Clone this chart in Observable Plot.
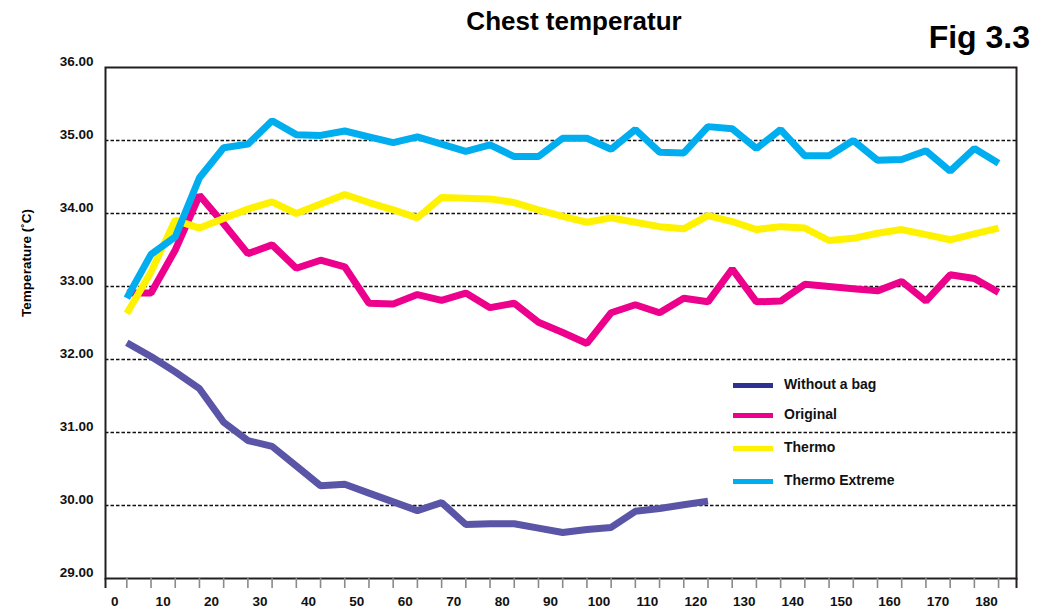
<!DOCTYPE html>
<html>
<head>
<meta charset="utf-8">
<script src="https://cdn.jsdelivr.net/npm/d3@7"></script>
<script src="https://cdn.jsdelivr.net/npm/@observablehq/plot@0.6"></script>
<style>
  html, body { margin: 0; padding: 0; background: #fff; }
  body { font-family: "Liberation Sans", Arial, Helvetica, sans-serif; }
  #wrap { position: relative; width: 1047px; height: 608px; overflow: hidden; }
  #chart { position: absolute; left: 0; top: 0; }
  .txt { position: absolute; font-weight: bold; color: #000; white-space: nowrap; line-height: 1; }
  #title { left: 574px; top: 8px; font-size: 26px; transform: translateX(-50%); }
  #fig { right: 17px; top: 21px; font-size: 32px; }
  #ytitle { left: 27px; top: 263px; font-size: 13.5px; transform: translate(-50%, -50%) rotate(-90deg); }
  #legend { position: absolute; left: 733px; top: 372px; }
  .row { position: absolute; left: 0; height: 26px; width: 260px; }
  .sw { position: absolute; left: 0; top: 11px; width: 40px; height: 5px; }
  .lab { position: absolute; left: 51px; top: 5px; font-size: 14px; font-weight: bold; color: #111; white-space: nowrap; line-height: 1; }
</style>
</head>
<body>
<div id="wrap">
  <div id="chart"></div>
  <div class="txt" id="title"></div>
  <div class="txt" id="fig"></div>
  <div class="txt" id="ytitle"></div>
  <div id="legend"></div>
</div>
<script>
// ---- Data (minutes, °C) ----
const titleText = "Chest temperatur";
const figText = "Fig 3.3";
const yTitle = "Temperature (˚C)";

const times = [2.5, 7.5, 12.5, 17.5, 22.5, 27.5, 32.5, 37.5, 42.5, 47.5, 52.5, 57.5, 62.5,
  67.5, 72.5, 77.5, 82.5, 87.5, 92.5, 97.5, 102.5, 107.5, 112.5, 117.5, 122.5, 127.5,
  132.5, 137.5, 142.5, 147.5, 152.5, 157.5, 162.5, 167.5, 172.5, 177.5, 182.5];

const withoutBag = [32.23, 32.04, 31.83, 31.60, 31.14, 30.89, 30.81, 30.54, 30.27, 30.29,
  30.17, 30.05, 29.93, 30.04, 29.74, 29.75, 29.75, 29.69, 29.63, 29.67, 29.70, 29.92,
  29.96, 30.01, 30.06];

const original = [32.91, 32.91, 33.50, 34.25, 33.86, 33.45, 33.57, 33.25, 33.36, 33.27,
  32.77, 32.76, 32.89, 32.81, 32.91, 32.71, 32.77, 32.51, 32.37, 32.22, 32.64, 32.75,
  32.64, 32.84, 32.79, 33.24, 32.79, 32.80, 33.03, 33.00, 32.97, 32.94, 33.07, 32.80,
  33.16, 33.11, 32.92];

const thermo = [32.63, 33.20, 33.91, 33.80, 33.93, 34.06, 34.16, 34.00, 34.13, 34.26,
  34.15, 34.05, 33.94, 34.22, 34.21, 34.20, 34.15, 34.05, 33.96, 33.88, 33.94, 33.88,
  33.82, 33.79, 33.97, 33.89, 33.78, 33.82, 33.80, 33.63, 33.66, 33.73, 33.78, 33.71,
  33.64, 33.72, 33.80];

const thermoExtreme = [32.84, 33.44, 33.68, 34.49, 34.90, 34.95, 35.27, 35.08, 35.07, 35.13,
  35.05, 34.97, 35.05, 34.95, 34.85, 34.94, 34.78, 34.78, 35.03, 35.03, 34.88, 35.15,
  34.84, 34.83, 35.19, 35.16, 34.89, 35.15, 34.79, 34.79, 35.00, 34.73, 34.74, 34.86,
  34.58, 34.89, 34.69];

const seriesNames = ["Without a bag", "Original", "Thermo", "Thermo Extreme"];
const seriesValues = [withoutBag, original, thermo, thermoExtreme];
const lineColors = ["#5a55a6", "#ec008c", "#fff200", "#00aeef"];
const legendColors = ["#2e3192", "#ec008c", "#fff200", "#00aeef"];

const xLabels = [0, 10, 20, 30, 40, 50, 60, 70, 80, 90, 100, 110, 120, 130, 140, 150, 160, 170, 180];
const xDomain = [-1.9, 186.2];
const yTicks = [29, 30, 31, 32, 33, 34, 35, 36];
const gridValues = [30, 31, 32, 33, 34, 35];

// ---- Build table ----
const rows = [];
seriesNames.forEach((name, s) => {
  seriesValues[s].forEach((v, i) => rows.push({series: name, t: times[i], v}));
});

const font = "'Liberation Sans', Arial, Helvetica, sans-serif";

const chart = Plot.plot({
  width: 1047,
  height: 608,
  marginLeft: 105,
  marginRight: 31,
  marginTop: 67,
  marginBottom: 30,
  style: {fontFamily: font, background: "#fff", color: "#000", overflow: "visible"},
  x: {domain: xDomain, label: null},
  y: {domain: [yTicks[0], yTicks[yTicks.length - 1]], label: null},
  color: {domain: seriesNames, range: lineColors},
  marks: [
    Plot.ruleY(gridValues, {stroke: "#111", strokeWidth: 1.7, strokeDasharray: "3.5,2"}),
    Plot.line(rows, {
      x: "t", y: "v", z: "series", stroke: "series",
      strokeWidth: 7, strokeLinejoin: "miter", strokeLinecap: "butt", curve: "linear"
    }),
    Plot.frame({stroke: "#231f20", strokeWidth: 2}),
    Plot.axisX(times, {tickSize: 10, tickFormat: () => "", stroke: "#8a8a8a", strokeWidth: 1.6, label: null}),
    Plot.axisX(xDomain, {tickSize: 10, tickFormat: () => "", stroke: "#231f20", strokeWidth: 2, label: null}),
    Plot.axisX(xLabels, {tickSize: 0, tickPadding: 18, fontSize: 13.5, fontWeight: "bold", fill: "#111", label: null}),
    Plot.axisY(yTicks, {tickSize: 0, tickPadding: 12, dy: -6, fontSize: 13.5, fontWeight: "bold", fill: "#111",
      tickFormat: d3.format(".2f"), label: null})
  ]
});
document.getElementById("chart").appendChild(chart);

document.getElementById("title").textContent = titleText;
document.getElementById("fig").textContent = figText;
document.getElementById("ytitle").textContent = yTitle;

// ---- Legend ----
const legendTops = [0, 30, 63, 96];
const legend = document.getElementById("legend");
seriesNames.forEach((name, i) => {
  const row = document.createElement("div");
  row.className = "row";
  row.style.top = legendTops[i] + "px";
  const sw = document.createElement("div");
  sw.className = "sw";
  sw.style.background = legendColors[i];
  const lab = document.createElement("div");
  lab.className = "lab";
  lab.textContent = name;
  row.appendChild(sw);
  row.appendChild(lab);
  legend.appendChild(row);
});
</script>
</body>
</html>
